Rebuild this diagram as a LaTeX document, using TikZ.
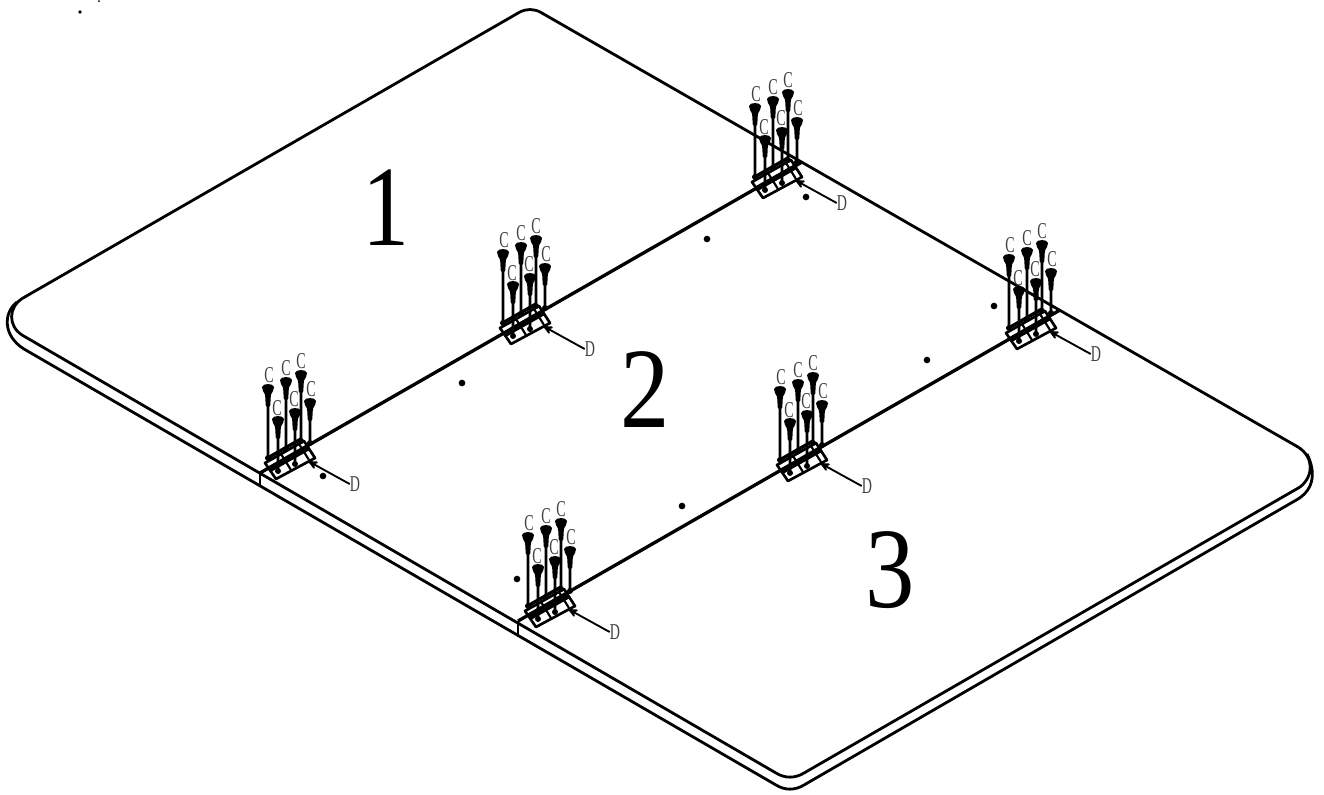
\documentclass[tikz,border=0pt]{standalone}
\usepackage{fontspec}
\setmainfont{Liberation Serif}
\usetikzlibrary{arrows}
\newcommand{\narrowtext}[1]{\scalebox{.62}[1]{#1}}
\tikzset{
edgeline/.style={line width=2.1pt, line join=round}, % outline of the table top
seamline/.style={line width=2.5pt}, % joints between the panels
capletter/.style={inner sep=0pt, text=black!75, font=\fontsize{17}{17}\selectfont}, % letters at the screws
panelnumber/.style={inner sep=0pt, font=\fontsize{86}{86}\selectfont}, % big panel numbers
hole/.style={circle, fill=black, inner sep=0pt, minimum size=5pt}, % small dots on the panels
hardware/.pic={
    % origin sits on the rearmost letter C
    \foreach \sx/\sy/\slen in {-15/17/71, 0/10/70, -33/24/73, 9/38/44, -6/48/55, -23/56/54} {
        \fill[shift={(\sx,\sy)}] (-6,2) .. controls (-5,-2) and (5,-2) .. (6,2) -- (5,6) .. controls (3,8) and (3,10) .. (2.6,13) -- (2.4,20) -- (1.3,22) -- (1.3,\slen) -- (-1.3,\slen) -- (-1.3,22) -- (-2.4,20) -- (-2.6,13) .. controls (-3,10) and (-3,8) .. (-5,6) -- cycle;
    }
    \draw[line width=2pt, line join=round] (-36,102) -- (-25,118) -- (14,97) -- (3,80) -- cycle;
    \draw[line width=2.6pt] (-35,98) -- (0,78);
    \draw[line width=4pt] (-32,109) -- (7,87);
    \draw[line width=1.6pt] (-20,93) -- (-10,109) (-2,83) -- (8,99);
    \foreach \hx/\hy in {-33/97, -15/88, 0/80, 9/82, -6/103, -23/110} {
        \fill (\hx,\hy) circle (3);
    }
    \node[capletter] (-c1) at (-32,14) {\narrowtext{C}};
    \node[capletter] (-c2) at (-15,7) {\narrowtext{C}};
    \node[capletter] (-c3) at (0,0) {\narrowtext{C}};
    \node[capletter] (-c4) at (10,28) {\narrowtext{C}};
    \node[capletter] (-c5) at (-7,38) {\narrowtext{C}};
    \node[capletter] (-c6) at (-24,47) {\narrowtext{C}};
    \node[capletter] (-d) at (54,123) {\narrowtext{D}};
    \coordinate (-tip) at (7,100);
    \draw[->, >=stealth', line width=1.4pt] (-d.west) -- (-tip);
},
}
\begin{document}
\begin{tikzpicture}[x=0.75pt, y=-0.75pt]
    \useasboundingbox (0,0) rectangle (1324,794);
    % top face
    \draw[edgeline] (23,298) -- (519,12.5) .. controls (526,8.5) and (534,8.5) .. (541,12.5)
        -- (1298,447) .. controls (1314,457) and (1314,476) .. (1300,487)
        -- (804,773) .. controls (795,778.5) and (785,778.5) .. (776,773)
        -- (22,335) .. controls (8,326) and (8,307) .. (23,298) -- cycle;
    % lower edge of the slab
    \draw[edgeline] (17,302) .. controls (3,313) and (3,336) .. (24,349)
        -- (776,785) .. controls (785,790.5) and (795,790.5) .. (804,785)
        -- (1298,499) .. controls (1314,489) and (1316,472) .. (1307,454);
    % joints
    \coordinate (seamAa) at (260,473);
    \coordinate (seamAb) at (802,162);
    \coordinate (seamBa) at (518,621);
    \coordinate (seamBb) at (1060,310);
    \coordinate (tickAa) at (260,487);
    \coordinate (tickBa) at (518,635);
    \draw[seamline] (seamAa) -- (seamAb);
    \draw[seamline] (seamBa) -- (seamBb);
    \draw[edgeline] (seamAa) -- (tickAa);
    \draw[edgeline] (seamBa) -- (tickBa);
    % panel numbers
    \node[panelnumber] (one) at (386,208) {\scalebox{.82}[1]{1}};
    \node[panelnumber] (two) at (645,390) {\scalebox{.86}[1]{2}};
    \node[panelnumber] (three) at (890,570) {\scalebox{.86}[1]{3}};
    % dots
    \foreach \px/\py in {806/197, 707/239, 462/383, 323/476, 994/306, 927/360, 682/506, 517/579} {
        \node[hole] at (\px,\py) {};
    }
    % specks at the top of the sheet
    \fill (80,12) circle (1.8);
    \fill (99,1) circle (1);
    % brackets with screws
    \pic (rear) at (788,80) {hardware};
    \pic (mid) at (536,226) {hardware};
    \pic (left) at (301,361) {hardware};
    \pic (right) at (1042,231) {hardware};
    \pic (centre) at (813,363) {hardware};
    \pic (front) at (561,509) {hardware};
\end{tikzpicture}
\end{document}
